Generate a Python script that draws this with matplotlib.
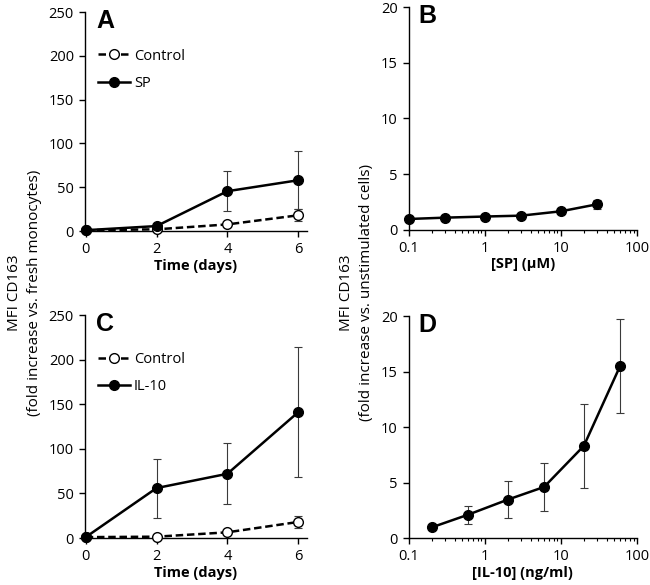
import numpy as np
import matplotlib
matplotlib.use("Agg")
from matplotlib import pyplot as plt
from matplotlib.ticker import LogLocator, NullFormatter, FixedLocator, FixedFormatter

plt.rcParams['font.family'] = ['Open Sans', 'DejaVu Sans']
plt.rcParams['font.size'] = 10.5

# panel A: time course, SP
days = [0, 2, 4, 6]
ctrl_a = [1, 2, 7.6, 18]
ctrl_a_err = [0, 0.5, 1.5, 7]
sp_a = [1, 5.7, 45.5, 58]
sp_a_err = [0, 1, 23, 33]

# panel C: time course, IL-10
ctrl_c = [1, 1.5, 6.4, 18]
ctrl_c_err = [0, 0.5, 1.5, 7]
il10_c = [1, 56, 72, 141]
il10_c_err = [0, 33, 34, 73]

# panel B: SP dose response
sp_conc = [0.1, 0.3, 1, 3, 10, 30]
sp_b = [0.98, 1.1, 1.2, 1.28, 1.67, 2.3]
sp_b_err = [0.05, 0.05, 0.1, 0.1, 0.2, 0.4]

# panel D: IL-10 dose response
il10_conc = [0.2, 0.6, 2, 6, 20, 60]
il10_d = [0.96, 2.1, 3.46, 4.6, 8.3, 15.5]
il10_d_err = [0.1, 0.8, 1.65, 2.2, 3.8, 4.2]

fig = plt.figure(figsize=(6.5, 5.85), dpi=100)

axA = fig.add_axes([0.1308, 0.605, 0.3415, 0.3744])
axB = fig.add_axes([0.629, 0.607, 0.351, 0.381])
axC = fig.add_axes([0.1308, 0.0803, 0.3415, 0.3812])
axD = fig.add_axes([0.629, 0.0803, 0.351, 0.3795])

err_kw = dict(ecolor='#3a3a3a', elinewidth=0.8, capsize=3, capthick=0.8)


def style_axes(ax):
    for s in ['top', 'right']:
        ax.spines[s].set_visible(False)
    for s in ['left', 'bottom']:
        ax.spines[s].set_linewidth(1.0)
    ax.tick_params(direction='out', length=4, width=1.0, labelsize=10.5, pad=4)
    ax.tick_params(which='minor', direction='out', length=2.5, width=0.8)


def time_panel(ax, ctrl, ctrl_err, treat, treat_err, lab, letter):
    ax.errorbar(days, ctrl, yerr=ctrl_err, fmt='none', **err_kw, zorder=2)
    ax.errorbar(days, treat, yerr=treat_err, fmt='none', **err_kw, zorder=2)
    ax.plot(days, ctrl, ls='--', color='black', lw=1.8, marker='o', ms=7,
            mfc='white', mec='black', mew=1.0, dashes=(3, 1.5),
            label='Control', clip_on=False, zorder=3)
    ax.plot(days, treat, ls='-', color='black', lw=1.8, marker='o', ms=7,
            mfc='black', mec='black', label=lab, clip_on=False, zorder=4)
    ax.set_xlim(-0.02, 6.25)
    ax.set_ylim(0, 250)
    ax.set_xticks([0, 2, 4, 6])
    ax.set_yticks([0, 50, 100, 150, 200, 250])
    ax.set_xlabel('Time (days)', fontweight='bold', labelpad=1)
    style_axes(ax)
    ax.legend(loc='upper left', bbox_to_anchor=(0.03, 0.86), frameon=False,
              handlelength=2.2, handletextpad=0.3, labelspacing=0.85,
              borderaxespad=0, fontsize=10.5)
    ax.text(0.05, 1.015, letter, transform=ax.transAxes, fontsize=18,
            fontweight='bold', family='Liberation Sans', va='top')


def dose_panel(ax, conc, vals, err, xlab, letter):
    ax.errorbar(conc, vals, yerr=err, fmt='none', **err_kw, zorder=2)
    ax.plot(conc, vals, ls='-', color='black', lw=1.8, marker='o', ms=7,
            mfc='black', mec='black', clip_on=False, zorder=3)
    ax.set_xscale('log')
    ax.set_xlim(0.1, 100)
    ax.set_ylim(0, 20)
    ax.set_yticks([0, 5, 10, 15, 20])
    ax.xaxis.set_major_locator(FixedLocator([0.1, 1, 10, 100]))
    ax.xaxis.set_major_formatter(FixedFormatter(['0.1', '1', '10', '100']))
    ax.xaxis.set_minor_locator(LogLocator(base=10, subs=np.arange(2, 10)))
    ax.xaxis.set_minor_formatter(NullFormatter())
    ax.set_xlabel(xlab, fontweight='bold', labelpad=1)
    style_axes(ax)
    ax.text(0.04, 1.015, letter, transform=ax.transAxes, fontsize=18,
            fontweight='bold', family='Liberation Sans', va='top')


time_panel(axA, ctrl_a, ctrl_a_err, sp_a, sp_a_err, 'SP', 'A')
time_panel(axC, ctrl_c, ctrl_c_err, il10_c, il10_c_err, 'IL-10', 'C')
dose_panel(axB, sp_conc, sp_b, sp_b_err, '[SP] (\u00b5M)', 'B')
dose_panel(axD, il10_conc, il10_d, il10_d_err, '[IL-10] (ng/ml)', 'D')

fig.text(0.037, 0.5, 'MFI CD163\n(fold increase vs. fresh monocytes)',
         rotation=90, ha='center', va='center', multialignment='center',
         fontsize=11, linespacing=1.45)
fig.text(0.549, 0.5, 'MFI CD163\n(fold increase vs. unstimulated cells)',
         rotation=90, ha='center', va='center', multialignment='center',
         fontsize=11, linespacing=1.45)

fig.savefig('out.png', dpi=100)
